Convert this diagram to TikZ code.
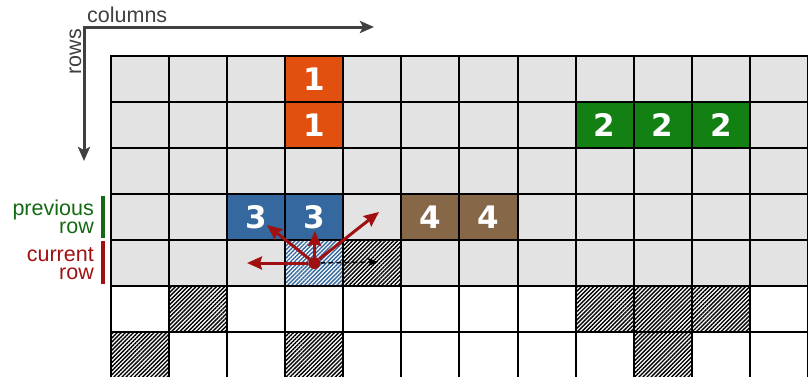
\documentclass[tikz,border=0pt]{standalone}
\usepackage{fontspec}
\setmainfont{Liberation Sans}
\newfontfamily\digitfont{DejaVu Sans}
\usetikzlibrary{arrows.meta,patterns.meta}
\definecolor{cellgray}{RGB}{227,227,227}
\definecolor{blockorange}{RGB}{226,80,15}
\definecolor{blockgreen}{RGB}{18,128,18}
\definecolor{blockblue}{RGB}{52,104,158}
\definecolor{blockbrown}{RGB}{134,104,72}
\definecolor{movered}{RGB}{160,16,16}
\definecolor{prevgreen}{RGB}{20,105,20}
\definecolor{axisgray}{RGB}{64,64,64}
\tikzset{
  cell/.style={draw,line width=2pt,minimum width=58.08pt,minimum height=46pt,inner sep=0pt,outer sep=0pt},
  digit/.style={cell,text=white,font=\digitfont\fontsize{31}{31}\selectfont\bfseries},
  hatch/.style={cell,preaction={fill=white},pattern={Lines[angle=45,distance=2.9pt,line width=1.4pt]}},
  move/.style={draw=movered,line width=3pt,-{Stealth[length=15pt,width=13pt,inset=2pt]}},
  axis/.style={draw=axisgray,line width=3pt,{Stealth[length=14pt,width=12pt,inset=3pt]}-{Stealth[length=14pt,width=12pt,inset=3pt]}},
}
\begin{document}
\begin{tikzpicture}[x=1pt,y=-1pt,font=\fontsize{21.5}{18}\selectfont]
\useasboundingbox (0,0) rectangle (808,376);
% grid of cells
\foreach \c in {0,...,11}{
  \foreach \r in {0,...,4}
    \node[cell,fill=cellgray] (c\c-\r) at ({140.04+58.08*\c},{79+46*\r}) {};
  \foreach \r in {5,6}
    \node[cell,fill=white] (c\c-\r) at ({140.04+58.08*\c},{79+46*\r}) {};
}
% labelled blocks
\node[digit,fill=blockorange] (one-a) at (c3-0) {1};
\node[digit,fill=blockorange] (one-b) at (c3-1) {1};
\foreach \c in {8,9,10}
  \node[digit,fill=blockgreen] (two-\c) at (c\c-1) {2};
\foreach \c in {2,3}
  \node[digit,fill=blockblue] (three-\c) at (c\c-3) {3};
\foreach \c in {5,6}
  \node[digit,fill=blockbrown] (four-\c) at (c\c-3) {4};
% blocked cells
\node[hatch,pattern color=blockblue] (hcur) at (c3-4) {};
\foreach \c/\r in {4/4,1/5,8/5,9/5,10/5,0/6,3/6,9/6}
  \node[hatch,pattern color=black] (h\c-\r) at (c\c-\r) {};
% neighbours of the current cell
\node[circle,fill=movered,inner sep=0pt,minimum size=12pt] (cur) at (c3-4) {};
\coordinate (toleft) at (247,263);
\coordinate (toup) at (315,231);
\coordinate (toupleft) at (267,225);
\coordinate (toupright) at (379,212);
\coordinate (toright) at (378,262);
\draw[move] (cur) -- (toleft);
\draw[move] (cur) -- (toup);
\draw[move] (cur) -- (toupleft);
\draw[move] (cur) -- (toupright);
\draw[dash pattern=on 5pt off 3pt,line width=1.5pt,-{Stealth[length=11pt,width=9pt]}] (cur) -- (toright);
% axes
\coordinate (origin) at (84,27);
\coordinate (colend) at (374,27);
\coordinate (rowend) at (84,161);
\draw[axis] (rowend) -- (origin) -- (colend);
\node[anchor=base west,text=axisgray,inner sep=0pt] (collabel) at (87,22) {columns};
\node[rotate=90,anchor=base east,text=axisgray,inner sep=0pt] (rowlabel) at (81,29) {rows};
% row markers
\node[align=right,anchor=base east,text=prevgreen,inner sep=0pt] (prevlabel) at (94,233) {previous\\row};
\node[align=right,anchor=base east,text=movered,inner sep=0pt] (curlabel) at (94,279) {current\\row};
\draw[line width=4pt,prevgreen] (103,196) -- (103,238);
\draw[line width=4pt,movered] (103,241) -- (103,284);
\end{tikzpicture}
\end{document}
